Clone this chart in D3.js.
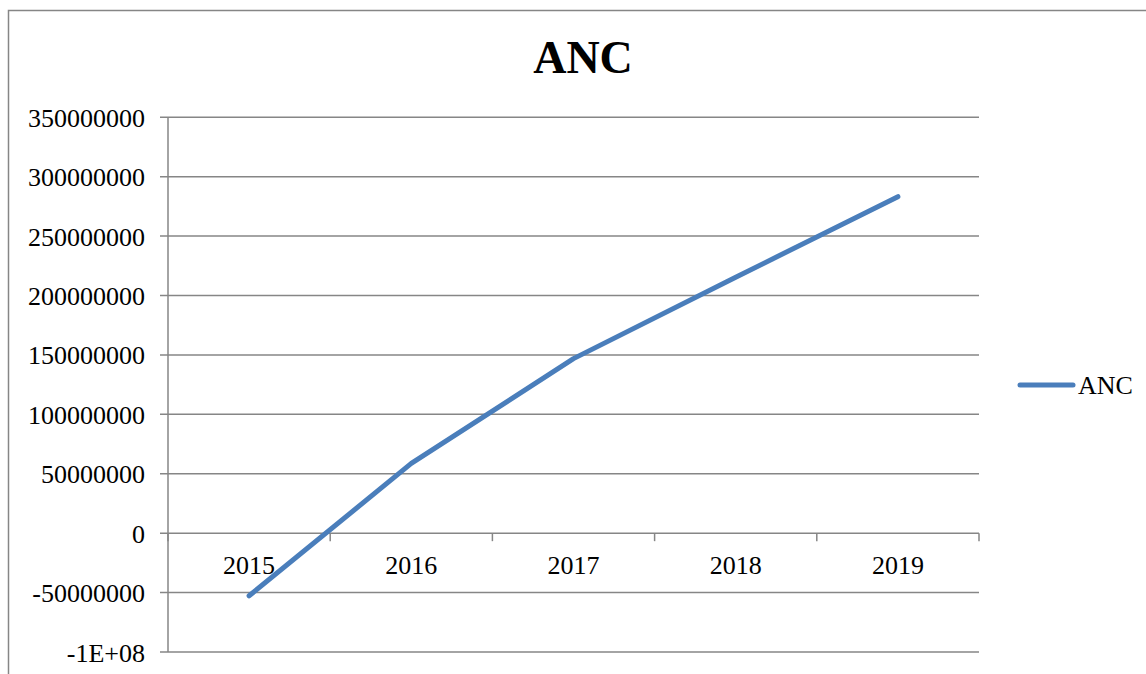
<!DOCTYPE html>
<html>
<head>
<meta charset="utf-8">
<script src="https://cdn.jsdelivr.net/npm/d3@7"></script>
<style>
  html, body { margin: 0; padding: 0; background: #fff; }
  svg { display: block; }
  text { font-family: "Liberation Serif", "Times New Roman", serif; fill: #000; }
</style>
</head>
<body>
<svg id="chart" width="1146" height="674"></svg>
<script>
const categories = ["2015", "2016", "2017", "2018", "2019"];
const ancValues = [-52700000, 58700000, 146900000, 215400000, 283200000];
const yTicks = [-100000000, -50000000, 0, 50000000, 100000000, 150000000, 200000000, 250000000, 300000000, 350000000];
const yTickLabels = ["-1E+08", "-50000000", "0", "50000000", "100000000", "150000000", "200000000", "250000000", "300000000", "350000000"];
const seriesName = "ANC";
const title = "ANC";

const svg = d3.select("#chart");
const W = 1146, H = 674;
const gridColor = "#868686";
const lineColor = "#4a7ebb";

// outer chart border
svg.append("rect")
  .attr("x", 8.5).attr("y", 10.5)
  .attr("width", 1200).attr("height", 800)
  .attr("fill", "none").attr("stroke", gridColor).attr("stroke-width", 1.5);

const plot = { left: 168, right: 979, top: 117.3, bottom: 652 };

const y = d3.scaleLinear()
  .domain([-100000000, 350000000])
  .range([plot.bottom, plot.top]);

const x = d3.scaleBand()
  .domain(categories)
  .range([plot.left, plot.right])
  .padding(0);

// title
svg.append("text")
  .attr("x", 583).attr("y", 73)
  .attr("text-anchor", "middle")
  .style("font-size", "46px").style("font-weight", "bold")
  .text(title);

// gridlines
svg.append("g").selectAll("line")
  .data(yTicks)
  .join("line")
  .attr("x1", plot.left - 8).attr("x2", plot.right)
  .attr("y1", d => y(d)).attr("y2", d => y(d))
  .attr("stroke", gridColor).attr("stroke-width", 1.5);

// y axis line
svg.append("line")
  .attr("x1", plot.left).attr("x2", plot.left)
  .attr("y1", plot.top).attr("y2", plot.bottom)
  .attr("stroke", gridColor).attr("stroke-width", 1.5);

// y labels
svg.append("g").selectAll("text")
  .data(yTicks)
  .join("text")
  .attr("x", 145)
  .attr("y", d => y(d) + 9.5)
  .attr("text-anchor", "end")
  .style("font-size", "26px")
  .text((d, i) => yTickLabels[i]);

// x axis ticks at category boundaries (on zero line)
const y0 = y(0);
const boundaries = categories.map(c => x(c)).concat([x(categories[categories.length - 1]) + x.bandwidth()]);
svg.append("g").selectAll("line")
  .data(boundaries)
  .join("line")
  .attr("x1", d => d).attr("x2", d => d)
  .attr("y1", y0).attr("y2", y0 + 8)
  .attr("stroke", gridColor).attr("stroke-width", 1.5);

// x labels
svg.append("g").selectAll("text")
  .data(categories)
  .join("text")
  .attr("x", d => x(d) + x.bandwidth() / 2)
  .attr("y", 574)
  .attr("text-anchor", "middle")
  .style("font-size", "26px")
  .text(d => d);

// line
const line = d3.line()
  .x((d, i) => x(categories[i]) + x.bandwidth() / 2)
  .y(d => y(d));

svg.append("path")
  .datum(ancValues)
  .attr("d", line)
  .attr("fill", "none")
  .attr("stroke", lineColor)
  .attr("stroke-width", 5)
  .attr("stroke-linecap", "round")
  .attr("stroke-linejoin", "round");

// legend
svg.append("line")
  .attr("x1", 1020).attr("x2", 1073)
  .attr("y1", 385).attr("y2", 385)
  .attr("stroke", lineColor).attr("stroke-width", 5)
  .attr("stroke-linecap", "round");
svg.append("text")
  .attr("x", 1078).attr("y", 394)
  .style("font-size", "26px")
  .text(seriesName);
</script>
</body>
</html>
